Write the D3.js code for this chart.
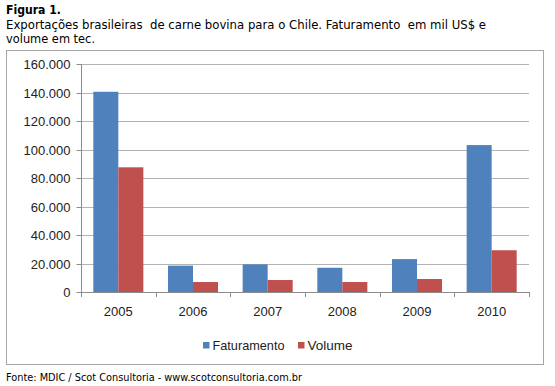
<!DOCTYPE html>
<html><head><meta charset="utf-8">
<script src="https://cdn.jsdelivr.net/npm/d3@7"></script>
<style>body{margin:0;background:#fff}</style>
</head><body>
<svg id="c" width="555" height="386"></svg>
<script>
const years = ["2005","2006","2007","2008","2009","2010"];
const faturamento = [140500, 18500, 19400, 17000, 23100, 103100];
const volume = [87500, 7000, 8400, 7000, 9100, 29300];
const seriesNames = ["Faturamento","Volume"];
const colors = ["#4F81BD","#C0504D"];
const yTicks = [0,20000,40000,60000,80000,100000,120000,140000,160000];

const svg = d3.select("#c");
const tf = "Tahoma, 'DejaVu Sans', sans-serif";
svg.append("text").attr("x",6).attr("y",14).attr("font-family",tf).attr("font-size",12).attr("font-weight","bold").attr("textLength",55).attr("lengthAdjust","spacingAndGlyphs").text("Figura 1.");
svg.append("text").attr("x",6).attr("y",29).attr("font-family",tf).attr("font-size",12).attr("textLength",480).attr("lengthAdjust","spacingAndGlyphs").attr("xml:space","preserve").text("Exportações brasileiras  de carne bovina para o Chile. Faturamento  em mil US$ e");
svg.append("text").attr("x",6).attr("y",43).attr("font-family",tf).attr("font-size",12).attr("textLength",89).attr("lengthAdjust","spacingAndGlyphs").text("volume em tec.");

svg.append("rect").attr("x",6.5).attr("y",50.5).attr("width",537).attr("height",314).attr("fill","#fff").attr("stroke","#a6a6a6");

const x0 = d3.scaleBand().domain(years).range([81,529]).paddingInner(0.33).paddingOuter(0.165);
const x1 = d3.scaleBand().domain(seriesNames).range([0,x0.bandwidth()]);
const y = d3.scaleLinear().domain([0,160000]).range([292,64]);
const fmt = d => d3.format(",")(d).replace(/,/g,".");

const g = svg.append("g");
g.selectAll("line.grid").data(yTicks.slice(1)).join("line")
 .attr("x1",81).attr("x2",529).attr("y1",d=>Math.round(y(d))+0.5).attr("y2",d=>Math.round(y(d))+0.5)
 .attr("stroke","#b3b3b3").attr("stroke-width",1);

const ya = g.append("g").attr("transform","translate(81.5,0)")
 .call(d3.axisLeft(y).tickValues(yTicks).tickFormat(fmt).tickSize(5).tickPadding(6));
ya.select(".domain").attr("stroke","#8c8c8c").attr("d","M0,64V292");
ya.selectAll(".tick line").attr("stroke","#8c8c8c");
ya.selectAll(".tick").attr("transform",d=>`translate(0,${Math.round(y(d))+0.5})`);
ya.selectAll("text").attr("font-family","Arial, 'Liberation Sans', sans-serif").attr("font-size",13).attr("fill","#222");

const data = years.map((yr,i)=>({yr, vals:[faturamento[i], volume[i]]}));
const grp = g.selectAll("g.grp").data(data).join("g").attr("transform",d=>`translate(${x0(d.yr)},0)`);
grp.selectAll("rect").data(d=>d.vals.map((v,k)=>({k,v}))).join("rect")
 .attr("x",d=>x1(seriesNames[d.k])).attr("width",x1.bandwidth())
 .attr("y",d=>y(d.v)).attr("height",d=>292-y(d.v)).attr("fill",d=>colors[d.k]);

const xTickPos = years.map(yr=>x0(yr)-x0.step()*x0.paddingInner()/2).concat([529]);
g.append("line").attr("x1",81).attr("x2",529).attr("y1",292.5).attr("y2",292.5).attr("stroke","#8c8c8c");
g.selectAll("line.xt").data(xTickPos).join("line").attr("x1",d=>Math.round(d)+0.5).attr("x2",d=>Math.round(d)+0.5)
 .attr("y1",292).attr("y2",297).attr("stroke","#8c8c8c");
g.selectAll("text.xl").data(years).join("text").attr("x",d=>x0(d)+x0.bandwidth()/2).attr("y",316)
 .attr("text-anchor","middle").attr("font-family","Arial, 'Liberation Sans', sans-serif").attr("font-size",13).attr("fill","#222").text(d=>d);

const lg = svg.append("g");
const legX = [203, 298];
const legW = [72, 45];
seriesNames.forEach((s,k)=>{
  lg.append("rect").attr("x",legX[k]).attr("y",342).attr("width",6.5).attr("height",6.5).attr("fill",colors[k]);
  lg.append("text").attr("x",legX[k]+9.5).attr("y",349.5).attr("font-family","Arial, 'Liberation Sans', sans-serif").attr("font-size",13).attr("fill","#222")
   .attr("textLength",legW[k]).attr("lengthAdjust","spacingAndGlyphs").text(s);
});

svg.append("text").attr("x",6).attr("y",381).attr("font-family",tf).attr("font-size",11).attr("textLength",296).attr("lengthAdjust","spacingAndGlyphs").text("Fonte: MDIC / Scot Consultoria - www.scotconsultoria.com.br");
</script>
</body></html>
